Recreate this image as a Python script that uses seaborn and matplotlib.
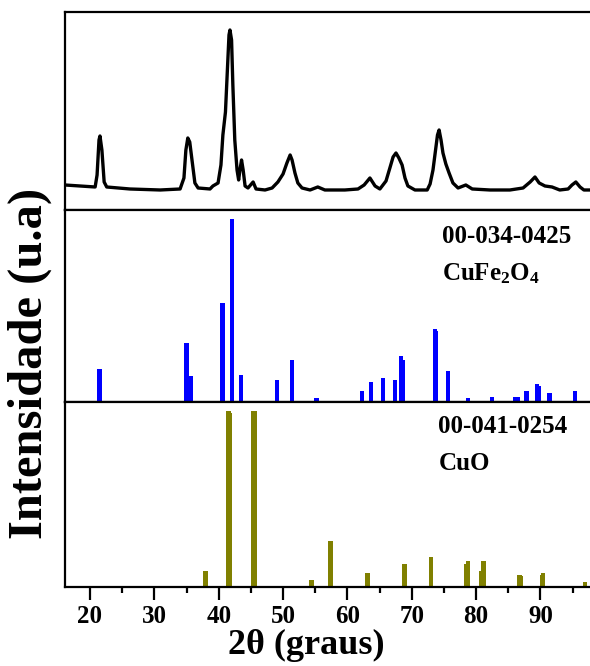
#XRD comparison chart: measured pattern on top, two reference cards (sticks) below
import numpy as np
import pandas as pd
import matplotlib
matplotlib.use('Agg')
import matplotlib.pyplot as plt
import seaborn as sns

two_theta = [16.1, 18.45, 20.8, 21.1, 21.4, 21.55, 21.85, 22.2, 22.6, 26.2, 30.9, 34.0,
             34.6, 34.9, 35.2, 35.5, 35.85, 36.3, 36.8, 38.65, 39.1, 39.9, 40.35, 40.65,
             41.05, 41.35, 41.6, 41.75, 42.0, 42.2, 42.5, 42.85, 43.1, 43.3, 43.55, 43.8,
             44.1, 44.55, 45.35, 45.8, 47.2, 48.3, 49.2, 50.0, 50.6, 51.1, 51.4, 51.85,
             52.3, 52.95, 54.2, 55.4, 56.5, 59.6, 61.65, 62.6, 63.5, 64.3, 65.05, 66.0,
             66.6, 67.1, 67.55, 68.0, 68.5, 68.95, 69.4, 70.5, 72.4, 72.85, 73.3, 73.7,
             74.0, 74.25, 74.55, 74.85, 75.3, 75.8, 76.4, 77.2, 78.4, 79.4, 82.15, 85.25,
             87.3, 88.4, 89.15, 89.8, 90.7, 91.8, 93.0, 94.3, 94.9, 95.5, 96.15, 96.75, 97.7]
intensity = [7, 6, 5, 17, 52, 56, 42, 10, 5, 3, 2, 3,
             14, 42, 54, 50, 32, 9, 4, 3, 6, 9, 27, 57,
             80, 122, 157, 162, 152, 107, 52, 22, 12, 22, 32, 22,
             6, 4, 10, 3, 2, 4, 10, 18, 29, 37, 32, 19,
             9, 4, 2, 5, 2, 2, 3, 7, 14, 6, 3, 11,
             24, 35, 39, 34, 27, 14, 6, 2, 2, 8, 22, 42,
             57, 62, 52, 39, 28, 19, 9, 4, 7, 3, 2, 2,
             4, 10, 15, 9, 6, 5, 2, 3, 7, 10, 5, 2, 2]

#reference card 00-034-0425 CuFe2O4 (relative intensity)
cufe_pos = [21.45, 35.0, 35.7, 40.6, 42.05, 43.5, 49.1, 51.4, 55.2, 62.3, 63.7, 65.55,
            67.4, 68.35, 68.6, 73.6, 73.8, 75.6, 78.75, 82.5, 86.1, 86.5, 87.85, 89.5,
            89.75, 91.4, 95.4]
cufe_int = [18, 32, 14, 54, 100, 15, 12, 23, 2, 6, 11, 13,
            12, 25, 23, 40, 39, 17, 2, 3, 3, 3, 6, 10,
            9, 5, 6]

#reference card 00-041-0254 CuO (relative intensity)
cuo_pos = [37.96, 41.5, 41.7, 45.35, 45.65, 54.3, 54.45, 57.4, 63.1, 68.75, 68.9, 73.0,
           78.4, 78.75, 80.85, 81.15, 86.75, 86.95, 90.2, 90.4, 96.9]
cuo_int = [9, 100, 99, 100, 100, 3, 4, 26, 8, 12, 13, 17,
           13, 15, 9, 15, 7, 6, 7, 8, 3]

df = pd.DataFrame({'2theta': two_theta, 'I': intensity})

sns.set_theme(style='ticks')
plt.rcParams['font.family'] = ['Liberation Serif', 'DejaVu Serif']
plt.rcParams['font.weight'] = 'bold'
plt.rcParams['text.color'] = 'black'
plt.rcParams['xtick.color'] = 'black'
plt.rcParams['xtick.labelcolor'] = 'black'
plt.rcParams['mathtext.fontset'] = 'custom'
plt.rcParams['mathtext.rm'] = 'Liberation Serif:bold'
plt.rcParams['mathtext.it'] = 'Liberation Serif:bold'
plt.rcParams['mathtext.bf'] = 'Liberation Serif:bold'

fig = plt.figure(figsize=(5.9, 6.66), dpi=100)
left, right = 0.110, 1.0
tops = [0.982, 0.6847, 0.3964]
bottoms = [0.6847, 0.3964, 0.1186]
axes = [fig.add_axes([left, b, right - left, t - b]) for t, b in zip(tops, bottoms)]
ax1, ax2, ax3 = axes

#measured curve
sns.lineplot(data=df, x='2theta', y='I', ax=ax1, color='black', linewidth=2.4)
ax1.set_ylim(-18, 180)

#reference sticks
ax2.bar(cufe_pos, cufe_int, width=0.68, color='#0000ff', linewidth=0)
ax2.set_ylim(0, 105)
ax3.bar(cuo_pos, cuo_int, width=0.68, color='#808000', linewidth=0)
ax3.set_ylim(0, 105.1)

for ax in axes:
    ax.set_xlim(16.1, 97.7)
    ax.set_yticks([])
    ax.set_xlabel('')
    ax.set_ylabel('')
    ax.spines['right'].set_visible(False)
    for s in ['left', 'top', 'bottom']:
        ax.spines[s].set_linewidth(1.6)
        ax.spines[s].set_color('black')
    ax.tick_params(axis='x', which='both', bottom=False, labelbottom=False)

ax3.set_xticks(range(20, 100, 10))
ax3.set_xticks(range(25, 100, 10), minor=True)
ax3.tick_params(axis='x', which='major', bottom=True, labelbottom=True, direction='out',
                length=9, width=1.6, pad=4, labelsize=18, colors='black')
ax3.tick_params(axis='x', which='minor', bottom=True, direction='out', length=4.5, width=1.6,
                colors='black')
for lab in ax3.get_xticklabels():
    lab.set_fontweight('bold')

#card labels
ax2.text(0.718, 0.828, '00-034-0425', transform=ax2.transAxes, fontsize=18,
         fontweight='bold', va='baseline', ha='left', color='black')
ax2.text(0.718, 0.635, r'CuFe$_2$O$_4$', transform=ax2.transAxes, fontsize=18,
         fontweight='bold', va='baseline', ha='left', color='black')
ax3.text(0.710, 0.832, '00-041-0254', transform=ax3.transAxes, fontsize=18,
         fontweight='bold', va='baseline', ha='left', color='black')
ax3.text(0.712, 0.632, 'CuO', transform=ax3.transAxes, fontsize=18,
         fontweight='bold', va='baseline', ha='left', color='black')

#axis titles
fig.text(306 / 590, 1 - 645 / 666, '2θ (graus)', fontsize=26, fontweight='bold',
         ha='center', va='center', color='black')
fig.text(30 / 590, 1 - 363 / 666, 'Intensidade (u.a)', fontsize=35, fontweight='bold',
         rotation=90, ha='center', va='center', color='black')

fig.savefig('out.png', dpi=100)
